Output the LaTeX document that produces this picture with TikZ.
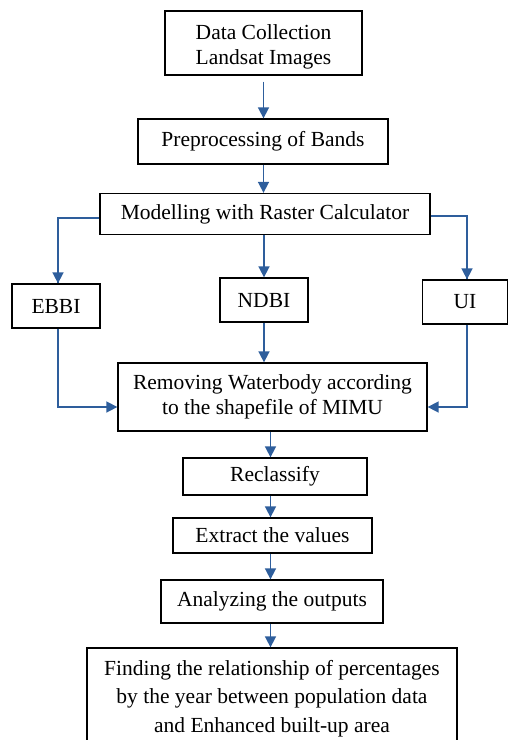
\documentclass[tikz,border=0pt]{standalone}
\usepackage{fontspec}
\setmainfont{Liberation Serif}
\usetikzlibrary{arrows.meta}
\definecolor{arrowblue}{HTML}{2E5E9C}
\tikzset{
  box/.style={draw=black, line width=1.3pt, fill=white, align=center, inner sep=2pt,
    font=\fontsize{21.5}{25}\selectfont},
  conn/.style={draw=arrowblue, line width=1.6pt, -{Triangle[width=11pt,length=11pt]}},
  plainconn/.style={draw=arrowblue, line width=1.6pt}
}
\begin{document}
\begin{tikzpicture}[x=1pt,y=-1pt]
\useasboundingbox (0,0) rectangle (507,740);
\node[box, minimum width=197pt, minimum height=64pt] (b1) at (263.5,43) {\rule{0pt}{22pt}Data Collection\\Landsat Images};
\node[box, minimum width=250pt, minimum height=45pt] (b2) at (263,141.5) {Preprocessing of Bands};
\node[box, minimum width=330pt, minimum height=41pt] (b3) at (265,214) {Modelling with Raster Calculator};
\node[box, minimum width=88pt, minimum height=44pt] (ebbi) at (56,306) {EBBI};
\node[box, minimum width=88pt, minimum height=44pt] (ndbi) at (264,300) {NDBI};
\node[box, minimum width=85pt, minimum height=44pt] (ui) at (465,302) {UI};
\node[box, minimum width=309pt, minimum height=68pt] (rem) at (272.5,397) {Removing Waterbody according\\to the shapefile of MIMU};
\node[box, minimum width=184pt, minimum height=37pt] (rec) at (275,476.5) {Reclassify};
\node[box, minimum width=199pt, minimum height=35pt] (ext) at (272.5,535.5) {Extract the values};
\node[box, minimum width=222pt, minimum height=43pt] (ana) at (272,601.5) {Analyzing the outputs};
\node[box, minimum width=370pt, minimum height=110pt] (fin) at (272,703) {};
\node[align=center, inner sep=0pt, font=\fontsize{21.5}{28.5}\selectfont] (fintext) at (272,698.5) {Finding the relationship of percentages\\by the year between population data\\and Enhanced built-up area};

\draw[conn] (b1.south) ++(0,6) coordinate (b1s) -- (b1s |- b2.north);
\draw[conn] (b1s |- b2.south) -- (b1s |- b3.north);
\draw[plainconn] ([yshift=-4pt]b3.west) -| ([xshift=2pt]ebbi.north);
\draw[conn] ([xshift=2pt]ebbi.north) ++(0,-24) -- ([xshift=2pt]ebbi.north);
\draw[plainconn] ([yshift=-2pt]b3.east) -| ([xshift=2pt]ui.north);
\draw[conn] ([xshift=2pt]ui.north) ++(0,-24) -- ([xshift=2pt]ui.north);
\draw[conn] (ndbi.north |- b3.south) -- (ndbi.north);
\draw[conn] (ndbi.south) -- (ndbi.south |- rem.north);
\draw[conn] ([xshift=2pt]ebbi.south) |- ([yshift=-10pt]rem.west);
\draw[conn] ([xshift=2pt]ui.south) |- ([yshift=-10pt]rem.east);
\draw[conn] ([xshift=-2pt]rem.south) -- ([xshift=-2pt]rem.south |- rec.north);
\draw[conn] ([xshift=-2pt]rem.south |- rec.south) -- ([xshift=-2pt]rem.south |- ext.north);
\draw[conn] ([xshift=-2pt]rem.south |- ext.south) -- ([xshift=-2pt]rem.south |- ana.north);
\draw[conn] ([xshift=-2pt]rem.south |- ana.south) -- ([xshift=-2pt]rem.south |- fin.north);
\end{tikzpicture}
\end{document}
